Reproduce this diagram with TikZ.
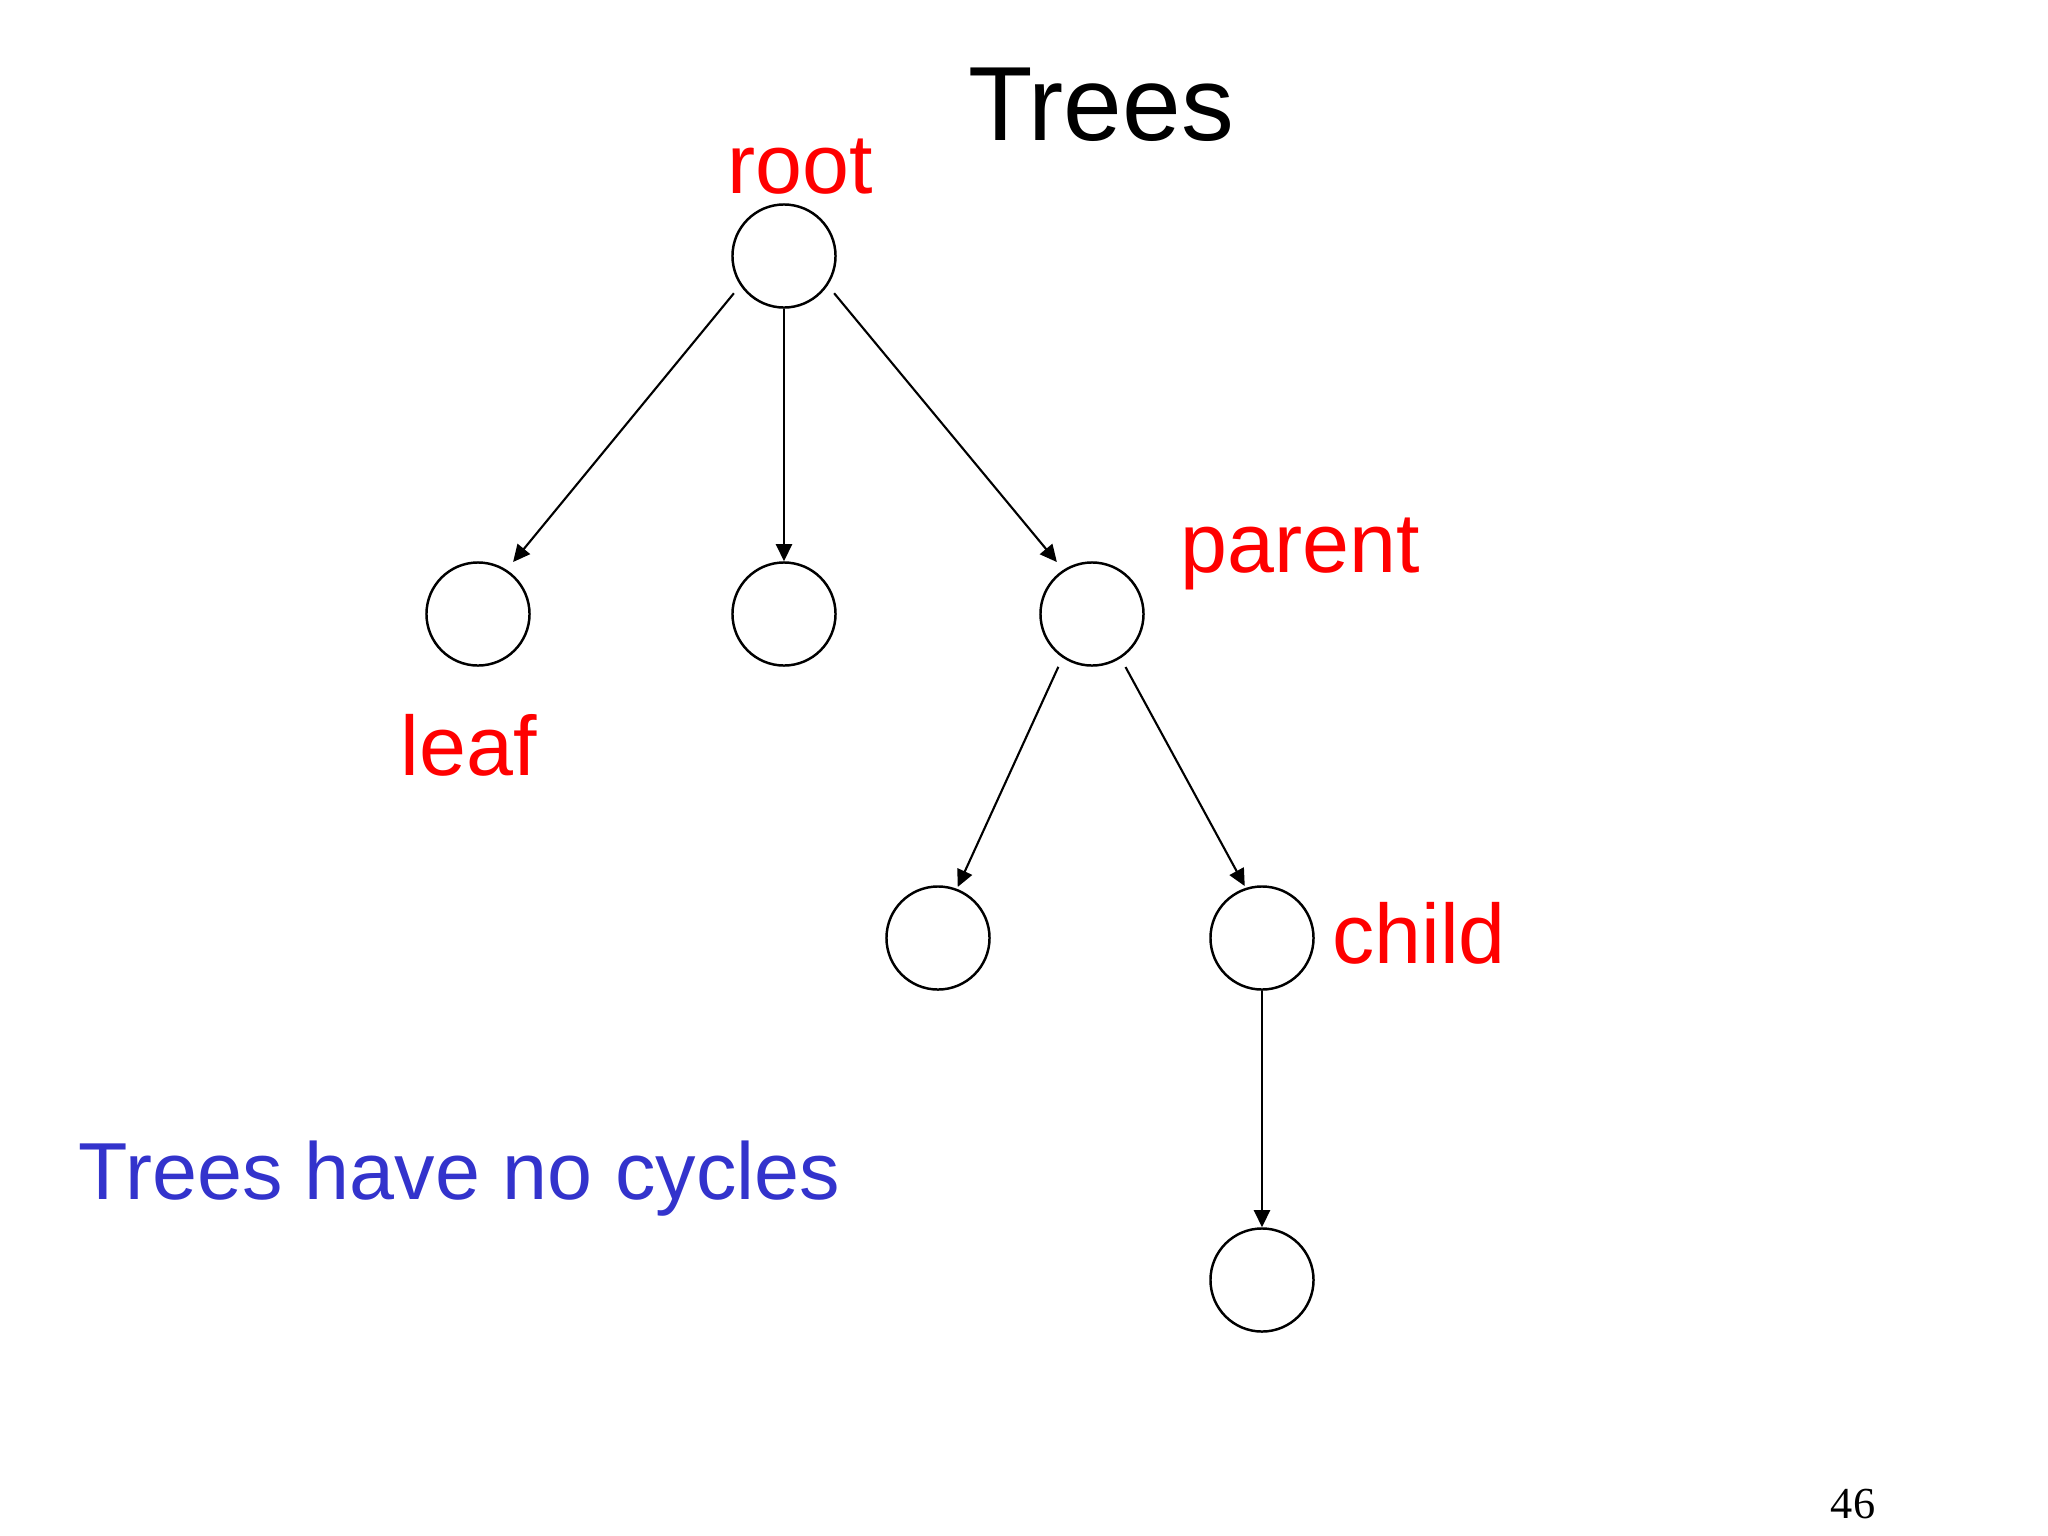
\documentclass[tikz,border=0pt]{standalone}
\usepackage{fontspec}
\setmainfont{Liberation Serif}
\newfontfamily\comicfont{Liberation Sans}
\usetikzlibrary{arrows.meta}
\definecolor{lblred}{RGB}{255,0,0}
\definecolor{lblblue}{RGB}{51,51,204}
\begin{document}
\begin{tikzpicture}[x=0.01cm,y=-0.01cm,
  vertex/.style={circle,draw=black,line width=0.7pt,minimum size=1.03cm,inner sep=0pt},
  edge/.style={line width=0.6pt,-{Triangle[length=0.17cm,width=0.16cm]}},
  lbl/.style={text=lblred,font=\comicfont\fontsize{24}{28}\selectfont,anchor=base,inner sep=0pt},
  title/.style={text=black,font=\comicfont\fontsize{30}{34}\selectfont,anchor=base,inner sep=0pt}]
\useasboundingbox (0,0) rectangle (2048,1536);
\node[vertex] (root) at (784,256) {};
\node[vertex] (leaf) at (478,614) {};
\node[vertex] (mid) at (784,614) {};
\node[vertex] (parent) at (1092,614) {};
\node[vertex] (cl) at (938,938) {};
\node[vertex] (child) at (1262,938) {};
\node[vertex] (bottom) at (1262,1280) {};
\draw[edge,shorten <=0.1cm,shorten >=0.1cm] (root.214) -- (leaf.57);
\draw[edge] (root.south) -- (mid.north);
\draw[edge,shorten <=0.1cm,shorten >=0.1cm] (root.326) -- (parent.123);
\draw[edge,shorten <=0.1cm,shorten >=0.02cm] (parent.236) -- (cl.69);
\draw[edge,shorten <=0.1cm,shorten >=0.02cm] (parent.303) -- (child.108);
\draw[edge] (child.south) -- (bottom.north);
\node[title] (ttl) at (1101,140) {Trees};
\node[lbl] (lroot) at (800,193) {root};
\node[lbl] (lparent) at (1300,572) {parent};
\node[lbl] (lleaf) at (469,775) {leaf};
\node[lbl] (lchild) at (1419,963) {child};
\node[text=lblblue,font=\comicfont\fontsize{23}{27}\selectfont,anchor=base west,inner sep=0pt] (cyc) at (78,1199) {Trees have no cycles};
\node[font=\fontsize{12.6}{15}\selectfont,anchor=base,inner sep=0pt] (pg) at (1853,1518) {46};
\end{tikzpicture}
\end{document}
